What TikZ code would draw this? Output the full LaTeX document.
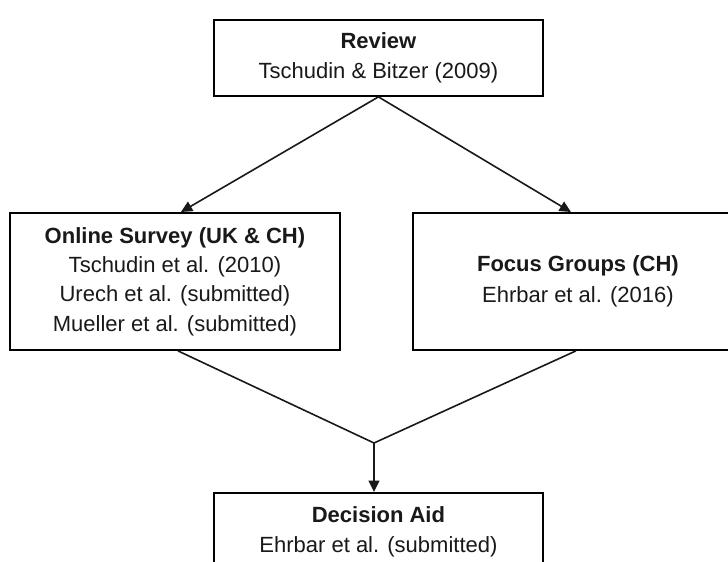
\documentclass[tikz,border=0pt]{standalone}
\usepackage{fontspec}
\setmainfont{Liberation Sans}
\usetikzlibrary{arrows.meta,calc}
\begin{document}
\begin{tikzpicture}[x=0.75pt,y=-0.75pt,
  box/.style={draw=black,line width=1.4pt,rectangle,inner sep=0pt,anchor=north west,
    align=center,font=\fontsize{16.5}{22}\selectfont,text=black!90},
  conn/.style={line width=1.2pt,draw=black!90},
  arr/.style={conn,-{Triangle[length=8.5pt,width=8pt]}}]
\useasboundingbox (0,0) rectangle (728,561);
\clip (0,0) rectangle (728,561);
\fill[white] (0,0) rectangle (728,561);
\node[box,minimum width=246.75pt,minimum height=57pt] (review) at (213,19)
  {\textbf{Review}\\Tschudin \& Bitzer (2009)};
\node[box,minimum width=247.5pt,minimum height=102.75pt] (online) at (9,212)
  {\textbf{Online Survey (UK \& CH)}\\Tschudin et al. (2010)\\Urech et al. (submitted)\\Mueller et al. (submitted)};
\node[box,minimum width=247.5pt,minimum height=102.75pt,font=\fontsize{16.5}{23}\selectfont] (focus) at (412,212)
  {\textbf{Focus Groups (CH)}\\Ehrbar et al. (2016)};
\node[box,minimum width=246.75pt,minimum height=58.5pt] (aid) at (213,492)
  {\textbf{Decision Aid}\\Ehrbar et al. (submitted)};
\coordinate (j) at (374,443);
\draw[arr] (review.south) -- ([xshift=4.5pt]online.north);
\draw[arr] (review.south) -- ([xshift=-5.25pt]focus.north);
\draw[conn] ([xshift=2.25pt]online.south) -- (j) -- ([xshift=-1.5pt]focus.south);
\draw[arr] (j) -- (j |- aid.north);
\end{tikzpicture}
\end{document}
